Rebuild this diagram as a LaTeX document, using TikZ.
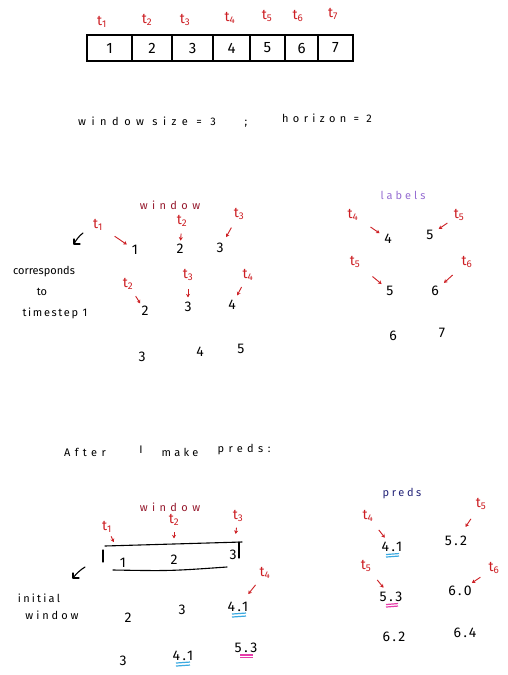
\documentclass[tikz,border=0pt]{standalone}
\usepackage{fontspec}
\setmainfont{Fira Sans}
\usetikzlibrary{calc,arrows.meta}
\definecolor{tred}{RGB}{205,30,35}
\definecolor{wred}{RGB}{150,25,45}
\definecolor{lpurple}{RGB}{150,110,210}
\definecolor{pblue}{RGB}{35,35,120}
\definecolor{ucyan}{RGB}{60,170,225}
\definecolor{umag}{RGB}{230,60,170}
\newcommand{\tlab}[1]{t\textsubscript{#1}}
\tikzset{
 num/.style={font=\fontsize{14}{16}\selectfont, inner sep=1pt},
 dec/.style={font=\fontsize{14}{16}\selectfont\addfontfeature{LetterSpace=18}, inner sep=1pt},
 tl/.style={text=tred, font=\fontsize{14}{16}\selectfont, inner sep=1pt},
 tarr/.style={draw=tred, line width=0.9pt, -{Stealth[length=3.5pt,width=4pt]}},
 note/.style={font=\fontsize{11}{13}\selectfont\addfontfeature{LetterSpace=#1}, inner sep=1pt},
 note/.default=0,
 cell/.style={draw, line width=1.1pt, minimum height=26pt, inner sep=0pt, font=\fontsize{15}{17}\selectfont},
 hookmark/.style={line width=1.1pt, line cap=round, line join=round},
 ucl/.style={draw=ucyan, line width=1.2pt},
 uml/.style={draw=umag, line width=1.2pt},
 boxline/.style={line width=1.1pt, line cap=round},
}
\begin{document}
\begin{tikzpicture}[x=1pt,y=-1pt]
\useasboundingbox (0,0) rectangle (507,675);
\fill[white] (0,0) rectangle (507,675);
% ---- top sequence
\foreach \i/\xl/\xr in {1/87/132,2/132/172,3/172/213,4/213/250,5/250/285,6/285/318,7/318/353}{
  \node[cell, minimum width={\xr-\xl}] (c\i) at ({(\xl+\xr)/2},48) {\i};
}
\foreach \i/\x/\y in {1/102/22,2/147/20,3/185/20,4/230/18,5/267/16,6/298/16,7/333/14}{
  \node[tl] (ct\i) at (\x,\y) {\tlab{\i}};
}
\node[note=50] (ws) at (147,121) {window size = 3};
\node[note] (semi) at (246,124) {;};
\node[note=40] (hz) at (327,118) {horizon = 2};
% ---- window section
\node[note=40, text=wred] (w1) at (170,205) {window};
\node[num] (n11) at (135,250) {1};
\node[num] (n12) at (180,249) {2};
\node[num] (n13) at (220,248) {3};
\node[tl] (t11) at (98,225) {\tlab{1}};
\node[tl] (t12) at (182,221) {\tlab{2}};
\node[tl] (t13) at (239,214) {\tlab{3}};
\draw[tarr] ($(t11)!0.45!(n11)$) -- ($(t11)!0.78!(n11)$);
\draw[tarr] ($(t12)!0.45!(n12)$) -- ($(t12)!0.7!(n12)$);
\draw[tarr] ($(t13)!0.4!(n13)$) -- ($(t13)!0.68!(n13)$);
\node[num] (n21) at (145,311) {2};
\node[num] (n22) at (188,307) {3};
\node[num] (n23) at (232,305) {4};
\node[tl] (t21) at (128,284) {\tlab{2}};
\node[tl] (t22) at (188,275) {\tlab{3}};
\node[tl] (t23) at (248,275) {\tlab{4}};
\draw[tarr] ($(t21)!0.45!(n21)$) -- ($(t21)!0.72!(n21)$);
\draw[tarr] ($(t22)!0.45!(n22)$) -- ($(t22)!0.7!(n22)$);
\draw[tarr] ($(t23)!0.4!(n23)$) -- ($(t23)!0.68!(n23)$);
\node[num] (n31) at (142,357) {3};
\node[num] (n32) at (200,352) {4};
\node[num] (n33) at (241,349) {5};
\draw[hookmark] (83,233) .. controls (79,236) and (76,240) .. (74,244);
\draw[hookmark] (74,239) -- (74,244) -- (80,244);
\node[note] (cs1) at (44,272) {corresponds};
\node[note] (cs2) at (42,292) {to};
\node[note=15] (cs3) at (55,313) {timestep 1};
% ---- labels
\node[note=27, text=lpurple] (lab) at (403,195) {labels};
\node[num] (L11) at (388,239) {4};
\node[num] (L12) at (430,235) {5};
\node[num] (L21) at (390,291) {5};
\node[num] (L22) at (435,291) {6};
\node[num] (L31) at (393,336) {6};
\node[num] (L32) at (442,333) {7};
\node[tl] (tL11) at (353,215) {\tlab{4}};
\node[tl] (tL12) at (459,215) {\tlab{5}};
\node[tl] (tL21) at (355,262) {\tlab{5}};
\node[tl] (tL22) at (467,262) {\tlab{6}};
\draw[tarr] ($(tL11)!0.5!(L11)$) -- ($(tL11)!0.76!(L11)$);
\draw[tarr] ($(tL12)!0.4!(L12)$) -- ($(tL12)!0.7!(L12)$);
\draw[tarr] ($(tL21)!0.5!(L21)$) -- ($(tL21)!0.76!(L21)$);
\draw[tarr] ($(tL22)!0.45!(L22)$) -- ($(tL22)!0.72!(L22)$);
% ---- after preds
\node[note=40] (a1) at (85,452) {After};
\node[note] (a2) at (141,450) {I};
\node[note=30] (a3) at (180,452) {make};
\node[note=40] (a4) at (244,450) {preds:};
\node[note=40, text=wred] (w2) at (170,507) {window};
\node[tl] (tw1) at (107,527) {\tlab{1}};
\node[tl] (tw2) at (174,520) {\tlab{2}};
\node[tl] (tw3) at (238,516) {\tlab{3}};
\node[num] (m11) at (123,563) {1};
\node[num] (m12) at (174,560) {2};
\node[num] (m13) at (233,555) {3};
\draw[tarr] ($(tw1)!0.26!(m11)$) -- ($(tw1)!0.42!(m11)$);
\draw[tarr] ($(tw2)!0.3!(m12)$) -- ($(tw2)!0.46!(m12)$);
\draw[tarr] ($(tw3)!0.3!(m13)$) -- ($(tw3)!0.46!(m13)$);
\draw[boxline] (105,546) -- (242,542);
\draw[boxline] (103,550) -- (103,562);
\draw[boxline] (239,542) -- (239,558);
\draw[boxline] (113,570) .. controls (170,571) .. (227,567);
\draw[hookmark] (85,567) .. controls (80,570) and (76,574) .. (73,578);
\draw[hookmark] (73,573) -- (73,578) -- (79,578);
\node[note=20] (iw1) at (39,598) {initial};
\node[note=27] (iw2) at (52,615) {window};
\node[num] (m21) at (128,618) {2};
\node[num] (m22) at (182,610) {3};
\node[dec] (m23) at (238,607) {4.1};
\node[tl] (tw4) at (265,573) {\tlab{4}};
\draw[tarr] ($(tw4)!0.35!(m23)$) -- ($(tw4)!0.62!(m23)$);
\node[num] (m31) at (123,661) {3};
\node[dec] (m32) at (183,656) {4.1};
\node[dec] (m33) at (246,648) {5.3};
\draw[ucl] ($(m23.south)+(-6,1)$) -- ++(14,-1);
\draw[ucl] ($(m23.south)+(-6,4)$) -- ++(14,-1);
\draw[ucl] ($(m32.south)+(-7,1)$) -- ++(14,-1);
\draw[ucl] ($(m32.south)+(-7,4)$) -- ++(14,-1);
\draw[uml] ($(m33.south)+(-6,1)$) -- ++(13,0);
\draw[uml] ($(m33.south)+(-6,3.5)$) -- ++(13,0);
% ---- preds
\node[note=24, text=pblue] (pr) at (402,494) {preds};
\node[dec] (P11) at (392,547) {4.1};
\node[dec] (P12) at (456,541) {5.2};
\node[dec] (P21) at (391,597) {5.3};
\node[dec] (P22) at (460,591) {6.0};
\node[dec] (P31) at (394,637) {6.2};
\node[dec] (P32) at (465,633) {6.4};
\node[tl] (tP11) at (368,516) {\tlab{4}};
\node[tl] (tP12) at (481,504) {\tlab{5}};
\node[tl] (tP21) at (366,566) {\tlab{5}};
\node[tl] (tP22) at (494,568) {\tlab{6}};
\draw[tarr] ($(tP11)!0.45!(P11)$) -- ($(tP11)!0.7!(P11)$);
\draw[tarr] ($(tP12)!0.4!(P12)$) -- ($(tP12)!0.62!(P12)$);
\draw[tarr] ($(tP21)!0.45!(P21)$) -- ($(tP21)!0.7!(P21)$);
\draw[tarr] ($(tP22)!0.4!(P22)$) -- ($(tP22)!0.65!(P22)$);
\draw[ucl] ($(P11.south)+(-6,1.5)$) -- ++(13,-1);
\draw[ucl] ($(P11.south)+(-6,4)$) -- ++(13,-1);
\draw[uml] ($(P21.south)+(-5,1.5)$) -- ++(12,-1);
\draw[uml] ($(P21.south)+(-5,4)$) -- ++(12,-1);
\end{tikzpicture}
\end{document}
